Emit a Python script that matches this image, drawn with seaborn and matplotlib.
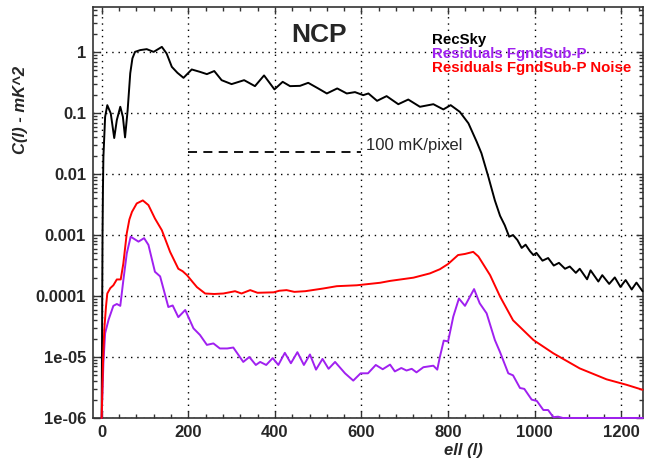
import seaborn as sns
import matplotlib.pyplot as plt
import matplotlib.ticker as mticker
import pandas as pd

# =========================
# Datos
# =========================
ell_sky = [0, 2, 3, 4, 8, 13, 21, 29, 35, 43, 49, 54, 60, 66, 71, 77, 89, 104, 120,
           139, 150, 162, 175, 189, 208, 227, 243, 260, 277, 300, 329, 354, 375, 399,
           418, 435, 458, 477, 500, 520, 544, 566, 585, 604, 616, 636, 658, 685, 708,
           735, 766, 789, 806, 827, 847, 866, 877, 893, 908, 920, 931, 941, 950, 960,
           970, 979, 989, 997, 1004, 1018, 1031, 1044, 1056, 1070, 1081, 1095, 1104,
           1121, 1129, 1147, 1156, 1172, 1185, 1198, 1210, 1224, 1235, 1249]
cl_sky = [1e-6, 1e-3, 6e-3, 0.019, 0.087, 0.135, 0.099, 0.039, 0.077, 0.127, 0.087,
          0.04, 0.112, 0.45, 0.79, 1.01, 1.08, 1.12, 1.01, 1.22, 0.95, 0.574, 0.458,
          0.379, 0.52, 0.475, 0.436, 0.49, 0.347, 0.299, 0.347, 0.277, 0.415, 0.245,
          0.326, 0.277, 0.28, 0.314, 0.254, 0.21, 0.254, 0.21, 0.221, 0.197, 0.21,
          0.159, 0.19, 0.14, 0.167, 0.127, 0.14, 0.115, 0.135, 0.105, 0.068, 0.034,
          0.022, 0.009, 0.0037, 0.00207, 0.00144, 0.00094, 0.001, 0.00083, 0.000615,
          0.000695, 0.000546, 0.00047, 0.00051, 0.00038, 0.00042, 0.000316, 0.00035,
          0.00028, 0.000305, 0.00024, 0.00028, 0.000188, 0.000264, 0.000173, 0.00022,
          0.000158, 0.000202, 0.000141, 0.000183, 0.000128, 0.000166, 0.00012]

ell_res = [0, 4, 8, 16, 27, 35, 43, 50, 58, 67, 85, 98, 108, 123, 135, 154, 164, 177,
           193, 212, 227, 243, 258, 273, 290, 304, 327, 341, 356, 366, 380, 395, 408,
           423, 437, 452, 467, 481, 495, 510, 524, 539, 562, 581, 598, 615, 633, 649,
           666, 677, 692, 704, 716, 727, 743, 766, 775, 781, 790, 800, 812, 825, 839,
           860, 873, 889, 908, 920, 939, 950, 966, 976, 993, 1005, 1020, 1031, 1043,
           1054, 1065, 1250]
cl_res = [1e-6, 8e-6, 2.45e-5, 4.1e-5, 6.9e-5, 7.4e-5, 6.9e-5, 1.8e-4, 5e-4, 9.4e-4,
          7.8e-4, 8.9e-4, 6.9e-4, 2.5e-4, 2.1e-4, 6.6e-5, 7.0e-5, 4.5e-5, 5.9e-5,
          2.95e-5, 2.3e-5, 1.58e-5, 1.67e-5, 1.38e-5, 1.38e-5, 1.43e-5, 8.3e-6, 1.0e-5,
          7.4e-6, 8.3e-6, 7.4e-6, 9.6e-6, 7.4e-6, 1.17e-5, 7.9e-6, 1.2e-5, 7.4e-6,
          1.1e-5, 6.2e-6, 9.3e-6, 6.4e-6, 8.3e-6, 5.4e-6, 4.1e-6, 5.4e-6, 5.4e-6,
          7.4e-6, 6.3e-6, 7.5e-6, 5.8e-6, 6.6e-6, 6.0e-6, 6.4e-6, 5.6e-6, 6.8e-6,
          7.2e-6, 6.2e-6, 1.0e-5, 1.86e-5, 1.8e-5, 4.6e-5, 9.1e-5, 6.9e-5, 1.3e-4,
          7.6e-5, 5.2e-5, 1.9e-5, 1.2e-5, 5.4e-6, 5.0e-6, 3.1e-6, 3.0e-6, 2.0e-6,
          1.9e-6, 1.35e-6, 1.35e-6, 1.03e-6, 1.05e-6, 1e-6, 1e-6]

ell_noise = [0, 3, 6, 10, 13, 20, 27, 35, 44, 50, 58, 64, 70, 81, 95, 108, 123, 139,
             158, 177, 187, 197, 210, 220, 239, 260, 281, 295, 308, 323, 343, 360, 397,
             410, 427, 445, 470, 512, 543, 589, 643, 666, 720, 758, 781, 800, 823, 839,
             858, 870, 897, 920, 950, 997, 1043, 1104, 1166, 1212, 1249]
cl_noise = [1e-6, 8e-6, 2.8e-5, 6.7e-5, 1.1e-4, 1.35e-4, 1.5e-4, 1.87e-4, 1.87e-4,
            3.4e-4, 1.07e-3, 1.8e-3, 2.4e-3, 3.3e-3, 3.7e-3, 3.1e-3, 1.87e-3, 1.2e-3,
            5.3e-4, 2.8e-4, 2.55e-4, 2.2e-4, 1.7e-4, 1.4e-4, 1.1e-4, 1.08e-4, 1.1e-4,
            1.15e-4, 1.2e-4, 1.1e-4, 1.25e-4, 1.13e-4, 1.15e-4, 1.22e-4, 1.25e-4,
            1.17e-4, 1.2e-4, 1.33e-4, 1.45e-4, 1.5e-4, 1.65e-4, 1.77e-4, 2.0e-4,
            2.35e-4, 2.75e-4, 3.35e-4, 4.7e-4, 4.9e-4, 5.3e-4, 4.45e-4, 2.2e-4, 9.8e-5,
            4.0e-5, 1.9e-5, 1.15e-5, 6.5e-6, 4.3e-6, 3.5e-6, 2.9e-6]

# linea de referencia "100 mK/pixel"
ell_ref = [200, 600]
cl_ref = [0.0232, 0.0232]

series_names = ["RecSky", "Residuals FgndSub-P", "Residuals FgndSub-P Noise"]
series_colors = ["black", "#A020F0", "red"]

x_ticks = [0, 200, 400, 600, 800, 1000, 1200]
y_ticks = [1, 0.1, 0.01, 0.001, 0.0001, 1e-05, 1e-06]
y_tick_labels = ["1", "0.1", "0.01", "0.001", "0.0001", "1e-05", "1e-06"]

# =========================
# Figura
# =========================
sns.set_style("ticks")
plt.rcParams["font.family"] = ["Liberation Sans", "DejaVu Sans"]

fig = plt.figure(figsize=(6.61, 4.67), dpi=100)
ax = fig.add_axes([0.1407, 0.105, 0.832, 0.88])

df_sky = pd.DataFrame({"ell": ell_sky, "cl": cl_sky})
df_res = pd.DataFrame({"ell": ell_res, "cl": cl_res})
df_noise = pd.DataFrame({"ell": ell_noise, "cl": cl_noise})

for df, c in zip([df_sky, df_res, df_noise], series_colors):
    sns.lineplot(data=df, x="ell", y="cl", ax=ax, color=c, lw=1.4,
                 estimator=None, sort=False, zorder=3)
# las curvas que tocan el borde inferior se dibujan sin recorte
for ln in ax.get_lines():
    ln.set_clip_on(False)
    ln.set_solid_joinstyle("round")

ax.plot(ell_ref, cl_ref, color="black", lw=1.3, ls=(0, (5, 3.5)), zorder=3)
ax.text(610, 0.029, "100 mK/pixel", fontsize=12, va="center", ha="left", zorder=4)

ax.set_yscale("log")
ax.set_xlim(-20, 1250)
ax.set_ylim(1e-6, 5.5)

ax.xaxis.set_major_locator(mticker.FixedLocator(x_ticks))
ax.xaxis.set_minor_locator(mticker.MultipleLocator(40))
ax.yaxis.set_major_locator(mticker.FixedLocator(y_ticks))
ax.yaxis.set_major_formatter(mticker.FixedFormatter(y_tick_labels))
ax.yaxis.set_minor_locator(mticker.LogLocator(base=10, subs=range(2, 10), numticks=20))
ax.yaxis.set_minor_formatter(mticker.NullFormatter())

ax.tick_params(which="both", direction="in", top=True, right=True, color="#333333")
ax.tick_params(which="major", length=5, width=1, labelsize=12, pad=5)
ax.tick_params(which="minor", length=3, width=1)
for lab in ax.get_xticklabels() + ax.get_yticklabels():
    lab.set_fontweight("bold")

ax.grid(which="major", color="black", lw=1.0, ls=(0, (1, 3.5)), zorder=1)

for s in ax.spines.values():
    s.set_color("#333333")
    s.set_linewidth(1.2)

ax.set_xlabel("ell (l)", fontsize=12, fontweight="bold", fontstyle="italic")
ax.xaxis.set_label_coords(0.673, -0.062)
ax.set_ylabel("C(l) - mK^2", fontsize=12, fontweight="bold", fontstyle="italic")
ax.yaxis.set_label_coords(-0.118, 0.75)

ax.text(0.411, 0.932, "NCP", transform=ax.transAxes, fontsize=19,
        fontweight="bold", ha="center", va="center")

for i, (name, c) in enumerate(zip(series_names, series_colors)):
    ax.text(0.616, 0.92 - i * 0.034, name, transform=ax.transAxes, color=c,
            fontsize=10.8, fontweight="bold", ha="left", va="center", zorder=4)

plt.savefig("out.png", dpi=100)
plt.close()
